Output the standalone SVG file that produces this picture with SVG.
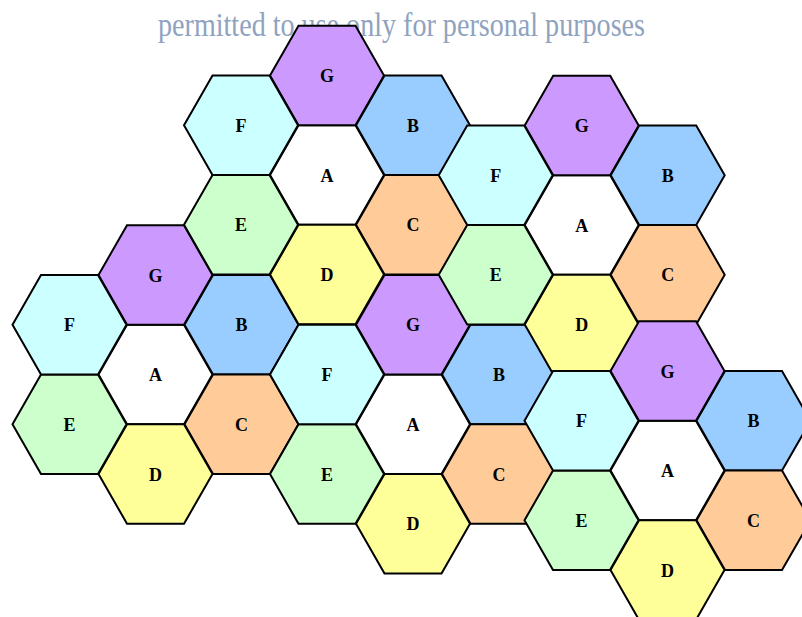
<svg xmlns="http://www.w3.org/2000/svg" xmlns:xlink="http://www.w3.org/1999/xlink" width="802" height="617" viewBox="0 0 802 617">
<style>
.hex{stroke:#000;stroke-width:2;stroke-linejoin:miter}
.lbl{font-family:"Liberation Serif","Times New Roman",serif;font-weight:bold;font-size:18px;text-anchor:middle;fill:#000}
.A{fill:#FFFFFF}.B{fill:#99CCFF}.C{fill:#FFCC99}.D{fill:#FFFF99}.E{fill:#CCFFCC}.F{fill:#CCFFFF}.G{fill:#CC99FF}
.wm{font-family:"Liberation Serif","Times New Roman",serif;font-size:33px;fill:#8FA3BF}
</style>
<defs>
<polygon id="hex" points="-57,0 -28.5,-49.75 28.5,-49.75 57,0 28.5,49.75 -28.5,49.75"/>
</defs>
<rect width="802" height="617" fill="#fff"/>
<text class="wm" x="158" y="36" textLength="487" lengthAdjust="spacingAndGlyphs">permitted to use only for personal purposes</text>
<g id="hexes">
<!-- cluster 1 -->
<g id="c1-A" transform="translate(155.5,374.5)"><use xlink:href="#hex" href="#hex" class="hex A"/><text class="lbl" y="6.5">A</text></g>
<g id="c1-G" transform="translate(155.5,275)"><use xlink:href="#hex" href="#hex" class="hex G"/><text class="lbl" y="6.5">G</text></g>
<g id="c1-B" transform="translate(241.5,324.75)"><use xlink:href="#hex" href="#hex" class="hex B"/><text class="lbl" y="6.5">B</text></g>
<g id="c1-C" transform="translate(241.5,424.25)"><use xlink:href="#hex" href="#hex" class="hex C"/><text class="lbl" y="6.5">C</text></g>
<g id="c1-D" transform="translate(155.5,474)"><use xlink:href="#hex" href="#hex" class="hex D"/><text class="lbl" y="6.5">D</text></g>
<g id="c1-E" transform="translate(69.5,424.25)"><use xlink:href="#hex" href="#hex" class="hex E"/><text class="lbl" y="6.5">E</text></g>
<g id="c1-F" transform="translate(69.5,324.75)"><use xlink:href="#hex" href="#hex" class="hex F"/><text class="lbl" y="6.5">F</text></g>
<!-- cluster 2 -->
<g id="c2-A" transform="translate(327,175)"><use xlink:href="#hex" href="#hex" class="hex A"/><text class="lbl" y="6.5">A</text></g>
<g id="c2-G" transform="translate(327,75.5)"><use xlink:href="#hex" href="#hex" class="hex G"/><text class="lbl" y="6.5">G</text></g>
<g id="c2-B" transform="translate(413,125.25)"><use xlink:href="#hex" href="#hex" class="hex B"/><text class="lbl" y="6.5">B</text></g>
<g id="c2-C" transform="translate(413,224.75)"><use xlink:href="#hex" href="#hex" class="hex C"/><text class="lbl" y="6.5">C</text></g>
<g id="c2-D" transform="translate(327,274.5)"><use xlink:href="#hex" href="#hex" class="hex D"/><text class="lbl" y="6.5">D</text></g>
<g id="c2-E" transform="translate(241,224.75)"><use xlink:href="#hex" href="#hex" class="hex E"/><text class="lbl" y="6.5">E</text></g>
<g id="c2-F" transform="translate(241,125.25)"><use xlink:href="#hex" href="#hex" class="hex F"/><text class="lbl" y="6.5">F</text></g>
<!-- cluster 3 -->
<g id="c3-A" transform="translate(413,424.3)"><use xlink:href="#hex" href="#hex" class="hex A"/><text class="lbl" y="6.5">A</text></g>
<g id="c3-G" transform="translate(413,324.8)"><use xlink:href="#hex" href="#hex" class="hex G"/><text class="lbl" y="6.5">G</text></g>
<g id="c3-B" transform="translate(499,374.55)"><use xlink:href="#hex" href="#hex" class="hex B"/><text class="lbl" y="6.5">B</text></g>
<g id="c3-C" transform="translate(499,474.05)"><use xlink:href="#hex" href="#hex" class="hex C"/><text class="lbl" y="6.5">C</text></g>
<g id="c3-D" transform="translate(413,523.8)"><use xlink:href="#hex" href="#hex" class="hex D"/><text class="lbl" y="6.5">D</text></g>
<g id="c3-E" transform="translate(327,474.05)"><use xlink:href="#hex" href="#hex" class="hex E"/><text class="lbl" y="6.5">E</text></g>
<g id="c3-F" transform="translate(327,374.55)"><use xlink:href="#hex" href="#hex" class="hex F"/><text class="lbl" y="6.5">F</text></g>
<!-- cluster 4 -->
<g id="c4-A" transform="translate(581.7,225)"><use xlink:href="#hex" href="#hex" class="hex A"/><text class="lbl" y="6.5">A</text></g>
<g id="c4-G" transform="translate(581.7,125.5)"><use xlink:href="#hex" href="#hex" class="hex G"/><text class="lbl" y="6.5">G</text></g>
<g id="c4-B" transform="translate(667.7,175.25)"><use xlink:href="#hex" href="#hex" class="hex B"/><text class="lbl" y="6.5">B</text></g>
<g id="c4-C" transform="translate(667.7,274.75)"><use xlink:href="#hex" href="#hex" class="hex C"/><text class="lbl" y="6.5">C</text></g>
<g id="c4-D" transform="translate(581.7,324.5)"><use xlink:href="#hex" href="#hex" class="hex D"/><text class="lbl" y="6.5">D</text></g>
<g id="c4-E" transform="translate(495.7,274.75)"><use xlink:href="#hex" href="#hex" class="hex E"/><text class="lbl" y="6.5">E</text></g>
<g id="c4-F" transform="translate(495.7,175.25)"><use xlink:href="#hex" href="#hex" class="hex F"/><text class="lbl" y="6.5">F</text></g>
<!-- cluster 5 -->
<g id="c5-A" transform="translate(667.5,470.6)"><use xlink:href="#hex" href="#hex" class="hex A"/><text class="lbl" y="6.5">A</text></g>
<g id="c5-G" transform="translate(667.5,371.1)"><use xlink:href="#hex" href="#hex" class="hex G"/><text class="lbl" y="6.5">G</text></g>
<g id="c5-B" transform="translate(753.5,420.85)"><use xlink:href="#hex" href="#hex" class="hex B"/><text class="lbl" y="6.5">B</text></g>
<g id="c5-C" transform="translate(753.5,520.35)"><use xlink:href="#hex" href="#hex" class="hex C"/><text class="lbl" y="6.5">C</text></g>
<g id="c5-D" transform="translate(667.5,570.1)"><use xlink:href="#hex" href="#hex" class="hex D"/><text class="lbl" y="6.5">D</text></g>
<g id="c5-E" transform="translate(581.5,520.35)"><use xlink:href="#hex" href="#hex" class="hex E"/><text class="lbl" y="6.5">E</text></g>
<g id="c5-F" transform="translate(581.5,420.85)"><use xlink:href="#hex" href="#hex" class="hex F"/><text class="lbl" y="6.5">F</text></g>
</g>
<g id="connectors"/>
</svg>
